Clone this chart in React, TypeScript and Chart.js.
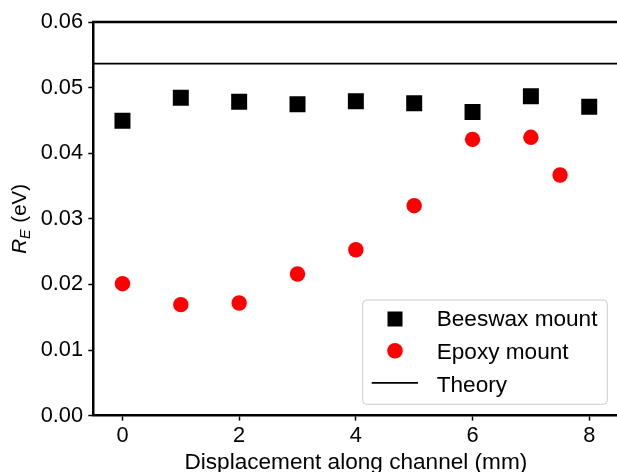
import React, { useEffect, useRef } from "react";
import { Chart, registerables } from "chart.js";

Chart.register(...registerables);

// ---- data ----
const beeswaxX = [0, 1, 2, 3, 4, 5, 6, 7, 8];
const beeswaxRE = [0.04496, 0.04847, 0.04786, 0.04745, 0.04791, 0.0476, 0.04628, 0.04867, 0.04709];
const epoxyX = [0, 1, 2, 3, 4, 5, 6, 7, 7.5];
const epoxyRE = [0.02011, 0.01691, 0.01716, 0.02159, 0.02529, 0.0320, 0.04211, 0.04242, 0.03668];
const theoryX = [-0.5, 8.5];
const theoryRE = [0.05364, 0.05364];
const xTicks = [0, 2, 4, 6, 8];
const yTicks = [0, 0.01, 0.02, 0.03, 0.04, 0.05, 0.06];
const seriesLabels = ["Beeswax mount", "Epoxy mount", "Theory"];
const xTitle = "Displacement along channel (mm)";
const yTitleMain = "R";
const yTitleSub = "E";
const yTitleUnit = " (eV)";

// ---- layout ----
const W = 630;
const H = 490;
const AREA = { left: 93.3, top: 22, right: 618.4, bottom: 415.6 };
const FONT = "'Liberation Sans', Arial, Helvetica, sans-serif";

const decorPlugin = {
  id: "decor",
  afterDraw(chart: any) {
    const { ctx, chartArea: a } = chart;
    ctx.save();
    // top & right spines
    ctx.strokeStyle = "#000";
    ctx.lineWidth = 2.5;
    ctx.beginPath();
    ctx.moveTo(a.left - 1.25, a.top);
    ctx.lineTo(a.right, a.top);
    ctx.lineTo(a.right, a.bottom);
    ctx.stroke();

    // y title (rotated, italic R with subscript E)
    const cy = (a.top + a.bottom) / 2;
    const fs = 20.5;
    ctx.fillStyle = "#000";
    ctx.textBaseline = "alphabetic";
    ctx.font = `italic ${fs}px ${FONT}`;
    const wR = ctx.measureText(yTitleMain).width;
    ctx.font = `italic ${fs * 0.7}px ${FONT}`;
    const wE = ctx.measureText(yTitleSub).width;
    ctx.font = `${fs}px ${FONT}`;
    const wU = ctx.measureText(yTitleUnit).width;
    const total = wR + wE + 1 + wU;
    ctx.translate(26, cy);
    ctx.rotate(-Math.PI / 2);
    let x0 = -total / 2;
    ctx.font = `italic ${fs}px ${FONT}`;
    ctx.fillText(yTitleMain, x0, 0);
    x0 += wR;
    ctx.font = `italic ${fs * 0.7}px ${FONT}`;
    ctx.fillText(yTitleSub, x0, 3.5);
    x0 += wE + 1;
    ctx.font = `${fs}px ${FONT}`;
    ctx.fillText(yTitleUnit, x0, 0);
    ctx.setTransform(1, 0, 0, 1, 0, 0);

    // legend (lower right inside axes)
    const bw = 244.6;
    const bh = 104.3;
    const bx = a.right - 11.1 - bw;
    const by = a.bottom - 11.3 - bh;
    ctx.beginPath();
    ctx.roundRect(bx, by, bw, bh, 4);
    ctx.fillStyle = "rgba(255,255,255,0.8)";
    ctx.fill();
    ctx.strokeStyle = "#cccccc";
    ctx.lineWidth = 1;
    ctx.stroke();

    const lfs = 22.6;
    ctx.font = `${lfs}px ${FONT}`;
    ctx.fillStyle = "#000";
    const rows = [17.5, 50.8, 84.1];
    const mx = bx + 32.3;
    const tx = bx + 74;
    seriesLabels.forEach((label, i) => {
      const yc = by + rows[i];
      if (i === 0) {
        ctx.fillStyle = "#000";
        ctx.fillRect(mx - 7.5, yc - 6, 15, 15);
      } else if (i === 1) {
        ctx.fillStyle = "#ff0000";
        ctx.beginPath();
        ctx.arc(mx, yc, 7.8, 0, Math.PI * 2);
        ctx.fill();
      } else {
        ctx.strokeStyle = "#000";
        ctx.lineWidth = 1.8;
        ctx.beginPath();
        ctx.moveTo(mx - 23.3, yc - 1.3);
        ctx.lineTo(mx + 23, yc - 1.3);
        ctx.stroke();
      }
      ctx.fillStyle = "#000";
      ctx.fillText(label, tx, yc + 0.358 * lfs);
    });
    ctx.restore();
  },
};

export default function App() {
  const ref = useRef<HTMLCanvasElement | null>(null);

  useEffect(() => {
    if (!ref.current) return;
    const chart = new Chart(ref.current, {
      type: "scatter",
      data: {
        datasets: [
          {
            label: seriesLabels[0],
            data: beeswaxX.map((x, i) => ({ x, y: beeswaxRE[i] })),
            pointStyle: "rect",
            pointRadius: 11.3,
            pointBackgroundColor: "#000",
            pointBorderColor: "#000",
            pointBorderWidth: 0,
            showLine: false,
          },
          {
            label: seriesLabels[1],
            data: epoxyX.map((x, i) => ({ x, y: epoxyRE[i] })),
            pointStyle: "circle",
            pointRadius: 7.7,
            pointBackgroundColor: "#ff0000",
            pointBorderColor: "#ff0000",
            pointBorderWidth: 0,
            showLine: false,
          },
          {
            label: seriesLabels[2],
            data: theoryX.map((x, i) => ({ x, y: theoryRE[i] })),
            showLine: true,
            borderColor: "#000",
            borderWidth: 1.8,
            pointRadius: 0,
            fill: false,
          },
        ],
      },
      options: {
        animation: false,
        responsive: false,
        devicePixelRatio: 1,
        layout: { padding: { left: 0, top: AREA.top, right: W - AREA.right, bottom: 0 } },
        plugins: { legend: { display: false }, tooltip: { enabled: false } },
        scales: {
          x: {
            type: "linear",
            min: theoryX[0],
            max: theoryX[1],
            afterBuildTicks: (s: any) => {
              s.ticks = xTicks.map((v) => ({ value: v }));
            },
            afterFit: (s: any) => {
              s.height = H - AREA.bottom;
            },
            grid: { drawOnChartArea: false, drawTicks: true, tickLength: 5, tickWidth: 1.5, tickColor: "#000" },
            border: { display: true, color: "#000", width: 2.5 },
            ticks: {
              color: "#000",
              font: { family: FONT, size: 21.8 },
              padding: 2,
              maxRotation: 0,
              autoSkip: false,
              callback: (v: any) => String(v),
            },
            title: {
              display: true,
              text: xTitle,
              color: "#000",
              font: { family: FONT, size: 22.6 },
              padding: { top: 0, bottom: 13.5 },
            },
          },
          y: {
            type: "linear",
            min: yTicks[0],
            max: yTicks[yTicks.length - 1],
            afterBuildTicks: (s: any) => {
              s.ticks = yTicks.map((v) => ({ value: v }));
            },
            afterFit: (s: any) => {
              s.width = AREA.left;
            },
            grid: { drawOnChartArea: false, drawTicks: true, tickLength: 5, tickWidth: 1.5, tickColor: "#000" },
            border: { display: true, color: "#000", width: 2.5 },
            ticks: {
              color: "#000",
              font: { family: FONT, size: 21.8 },
              padding: 5.2,
              autoSkip: false,
              callback: (v: any) => Number(v).toFixed(2),
            },
            title: { display: false },
          },
        },
      },
      plugins: [decorPlugin],
    });
    return () => chart.destroy();
  }, []);

  return (
    <div
      style={{
        position: "fixed",
        left: 0,
        top: 0,
        width: 617,
        height: 472,
        overflow: "hidden",
        background: "#fff",
      }}
    >
      <canvas ref={ref} width={W} height={H} style={{ display: "block", width: W, height: H }} />
    </div>
  );
}
